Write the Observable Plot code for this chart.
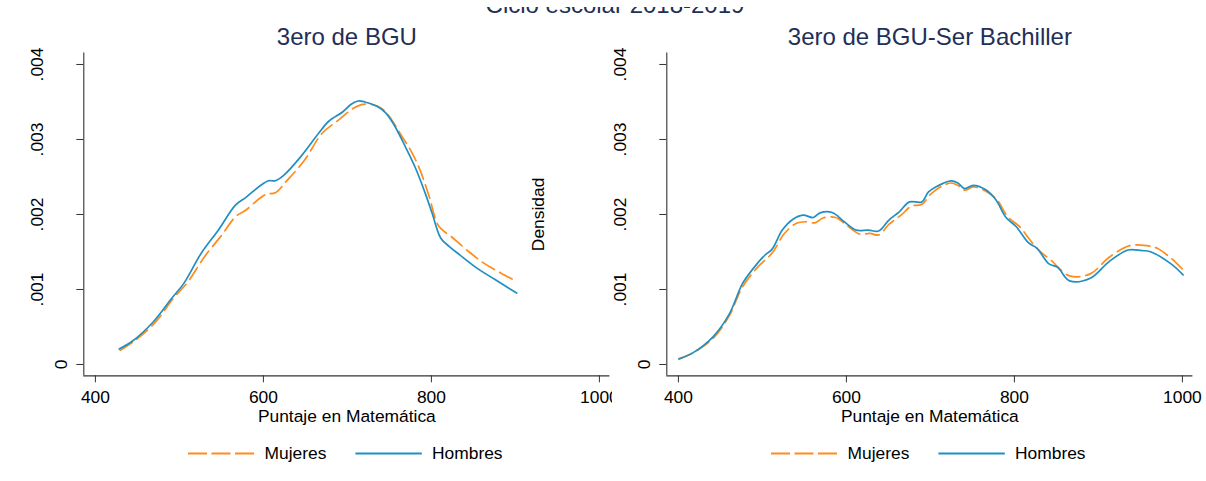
<!DOCTYPE html>
<html>
<head>
<meta charset="utf-8">
<script src="https://cdn.jsdelivr.net/npm/d3@7"></script>
<script src="https://cdn.jsdelivr.net/npm/@observablehq/plot@0.6"></script>
<style>
  html, body { margin: 0; padding: 0; background: #fff; }
  #wrap { position: relative; width: 1206px; height: 481px; overflow: hidden; background: #fff;
          font-family: "Liberation Sans", Arial, Helvetica, sans-serif; }
</style>
</head>
<body>
<div id="wrap"></div>
<script>
// ---------- data ----------
const mainTitle = "Ciclo escolar 2018-2019";
const panelTitles = ["3ero de BGU", "3ero de BGU-Ser Bachiller"];
const seriesNames = ["Mujeres", "Hombres"];
const xLabel = "Puntaje en Matemática";
const yLabel = "Densidad";
const xTicks = [400, 600, 800, 1000];
const yTicks = [0, 0.001, 0.002, 0.003, 0.004];
const yTickLabels = ["0", ".001", ".002", ".003", ".004"];

// Panel 1: 3ero de BGU
const p1HombresX = [428.3, 443.9, 468.5, 491.1, 505.5, 526, 546.5, 567, 579.3, 595.7, 606, 614.2, 624.5, 645, 665.5, 677.8, 694.3, 704.5, 712.7, 720.9, 735.3, 745.6, 755.8, 768.1, 780.4, 792.7, 800.9, 811.2, 821.4, 833.7, 854.2, 874.8, 901.5];
const p1HombresY = [0.000208, 0.00031, 0.000563, 0.000886, 0.001085, 0.001484, 0.001794, 0.002127, 0.002229, 0.002379, 0.00245, 0.00245, 0.002525, 0.002778, 0.003079, 0.003243, 0.003367, 0.003469, 0.003513, 0.0035, 0.003443, 0.003354, 0.00319, 0.002924, 0.002636, 0.002282, 0.002016, 0.001684, 0.001573, 0.001462, 0.001285, 0.001139, 0.000953];
const p1MujeresX = [429.6, 446, 470.6, 493.2, 509.6, 530.1, 550.6, 567, 579.3, 595.7, 603.9, 614.2, 628.6, 649.1, 669.6, 690.1, 706.5, 716.8, 727.1, 739.4, 749.6, 764, 776.3, 786.5, 796.8, 809.1, 823.5, 841.9, 862.4, 882.9, 901.5];
const p1MujeresY = [0.00019, 0.00031, 0.000554, 0.000886, 0.001094, 0.00144, 0.001728, 0.001972, 0.00206, 0.002216, 0.002273, 0.002291, 0.002459, 0.002725, 0.003079, 0.003265, 0.003412, 0.003465, 0.003469, 0.003425, 0.00331, 0.003057, 0.002836, 0.002592, 0.00226, 0.001839, 0.001706, 0.001529, 0.001351, 0.001218, 0.001108];

// Panel 2: 3ero de BGU-Ser Bachiller
const p2HombresX = [400.8, 417.2, 441.8, 460.2, 476.6, 490.9, 503.2, 511.4, 523.7, 536, 548.3, 560.5, 568.7, 583.1, 597.4, 611.7, 626.1, 638.4, 650.6, 662.9, 675.2, 689.6, 697.8, 708, 724.4, 732.6, 740.8, 751, 765.4, 777.7, 790, 802.3, 816.6, 826.9, 841.2, 851.4, 865.7, 890.3, 912.8, 935.3, 951.7, 961.9, 986.5, 1000.8];
const p2HombresY = [0.000075, 0.000155, 0.000376, 0.000664, 0.001084, 0.001305, 0.00146, 0.001535, 0.001792, 0.001934, 0.001991, 0.00196, 0.002022, 0.002027, 0.001903, 0.001792, 0.001792, 0.001779, 0.001925, 0.002035, 0.002168, 0.002168, 0.002301, 0.002376, 0.002447, 0.00242, 0.002345, 0.002389, 0.002332, 0.002199, 0.00196, 0.001836, 0.001624, 0.001549, 0.001341, 0.001296, 0.001115, 0.00115, 0.001372, 0.001527, 0.001518, 0.001504, 0.001341, 0.001195];
const p2MujeresX = [400.8, 417.2, 441.8, 460.2, 476.6, 495, 511.4, 525.7, 540, 552.4, 562.6, 572.8, 587.2, 601.5, 615.8, 628.1, 638.4, 650.6, 665, 677.3, 689.6, 699.8, 710, 724.4, 732.6, 740.8, 751, 765.4, 779.7, 792, 806.4, 818.6, 830.9, 843.2, 865.7, 890.3, 912.8, 937.3, 957.8, 970, 986.5, 1000.8];
const p2MujeresY = [0.000075, 0.000155, 0.000354, 0.000642, 0.00104, 0.001305, 0.001482, 0.001739, 0.00188, 0.001903, 0.001889, 0.001956, 0.00196, 0.001845, 0.001739, 0.001748, 0.001726, 0.001867, 0.001991, 0.002111, 0.002133, 0.002265, 0.002354, 0.00242, 0.002389, 0.002323, 0.002367, 0.002314, 0.00219, 0.001969, 0.001836, 0.001659, 0.001504, 0.001394, 0.001181, 0.001208, 0.001429, 0.001584, 0.001584, 0.001549, 0.001416, 0.001261];

// ---------- styling ----------
const FONT = '"Liberation Sans", Arial, Helvetica, sans-serif';
const ORANGE = "#ff8c1a";
const BLUE = "#1f8fc4";
const NAVY = "#1f2f57";
const AXIS = "#333";
const xDomain = [386.2, 1012.5];
const yDomain = [-0.0001507, 0.004153];

const zip = (xs, ys) => xs.map((x, i) => ({x, y: ys[i]}));
const tickObjs = yTicks.map((v, i) => ({v, t: yTickLabels[i]}));

function panel({width, marginLeft, marginRight, title, hombres, mujeres, showYLabel, left}) {
  const marks = [
    Plot.ruleX([xDomain[0]], {stroke: AXIS, strokeWidth: 1.1}),
    Plot.ruleY([yDomain[0]], {stroke: AXIS, strokeWidth: 1.2}),
    Plot.axisX(xTicks, {tickSize: 7, tickPadding: 8, fontSize: 17.4, stroke: AXIS, fill: "#000", tickFormat: d => String(d)}),
    Plot.axisY(yTicks, {tickSize: 7, stroke: AXIS, tickFormat: () => ""}),
    Plot.text(tickObjs.filter(d => d.v !== 0), {y: "v", text: "t", frameAnchor: "left", dx: -46, rotate: -90, textAnchor: "middle", lineAnchor: "middle", fontSize: 17.4, fill: "#000"}),
    Plot.text(tickObjs.filter(d => d.v === 0), {y: "v", text: "t", frameAnchor: "left", dx: -22, rotate: -90, textAnchor: "middle", lineAnchor: "middle", fontSize: 17.4, fill: "#000"}),
    Plot.line(mujeres, {x: "x", y: "y", stroke: ORANGE, strokeWidth: 1.7, strokeDasharray: "14,6", curve: "catmull-rom"}),
    Plot.line(hombres, {x: "x", y: "y", stroke: BLUE, strokeWidth: 1.7, curve: "catmull-rom"}),
    Plot.text([title], {frameAnchor: "top", dy: -15.2, lineAnchor: "middle", fontSize: 24, fill: NAVY}),
    Plot.text([xLabel], {frameAnchor: "bottom", dy: 40.5, lineAnchor: "middle", fontSize: 17.4, fill: "#000"})
  ];
  if (showYLabel) marks.push(Plot.text([yLabel], {frameAnchor: "left", dx: -128.8, rotate: -90, textAnchor: "middle", lineAnchor: "middle", fontSize: 17.4, fill: "#000"}));
  const svg = Plot.plot({
    width, height: 430,
    marginTop: 52.5, marginBottom: 54.7, marginLeft, marginRight,
    x: {domain: xDomain, label: null},
    y: {domain: yDomain, label: null},
    style: {fontFamily: FONT, fontSize: "17.4px", color: "#000", background: "transparent"},
    marks
  });
  svg.style.position = "absolute";
  svg.style.left = left + "px";
  svg.style.top = "0px";
  return svg;
}

const wrap = document.getElementById("wrap");
wrap.appendChild(panel({width: 612, marginLeft: 83.3, marginRight: 2.6, title: panelTitles[0],
  hombres: zip(p1HombresX, p1HombresY), mujeres: zip(p1MujeresX, p1MujeresY), showYLabel: false, left: 0}));
wrap.appendChild(panel({width: 706, marginLeft: 166.3, marginRight: 13.6, title: panelTitles[1],
  hombres: zip(p2HombresX, p2HombresY), mujeres: zip(p2MujeresX, p2MujeresY), showYLabel: true, left: 500}));

// overlay: cropped main title and legends
const NS = "http://www.w3.org/2000/svg";
const ov = document.createElementNS(NS, "svg");
ov.setAttribute("width", 1206); ov.setAttribute("height", 481);
ov.style.position = "absolute"; ov.style.left = "0px"; ov.style.top = "0px";
ov.style.fontFamily = FONT;
ov.innerHTML = `<defs><clipPath id="topclip"><rect x="0" y="7" width="1206" height="20"/></clipPath></defs>`;
function el(tag, attrs, text) {
  const e = document.createElementNS(NS, tag);
  for (const k in attrs) e.setAttribute(k, attrs[k]);
  if (text != null) e.textContent = text;
  ov.appendChild(e);
  return e;
}
el("text", {x: 615, y: 12.7, "text-anchor": "middle", "font-size": 24, fill: NAVY, "clip-path": "url(#topclip)"}, mainTitle);
[0, 583].forEach(off => {
  el("line", {x1: 188 + off, x2: 254 + off, y1: 453.5, y2: 453.5, stroke: ORANGE, "stroke-width": 1.8, "stroke-dasharray": "19,4.5"});
  el("text", {x: 264.6 + off, y: 459, "font-size": 17.4, fill: "#000"}, seriesNames[0]);
  el("line", {x1: 355.4 + off, x2: 421.8 + off, y1: 453.5, y2: 453.5, stroke: BLUE, "stroke-width": 1.8});
  el("text", {x: 432 + off, y: 459, "font-size": 17.4, fill: "#000"}, seriesNames[1]);
});
wrap.appendChild(ov);
</script>
</body>
</html>
